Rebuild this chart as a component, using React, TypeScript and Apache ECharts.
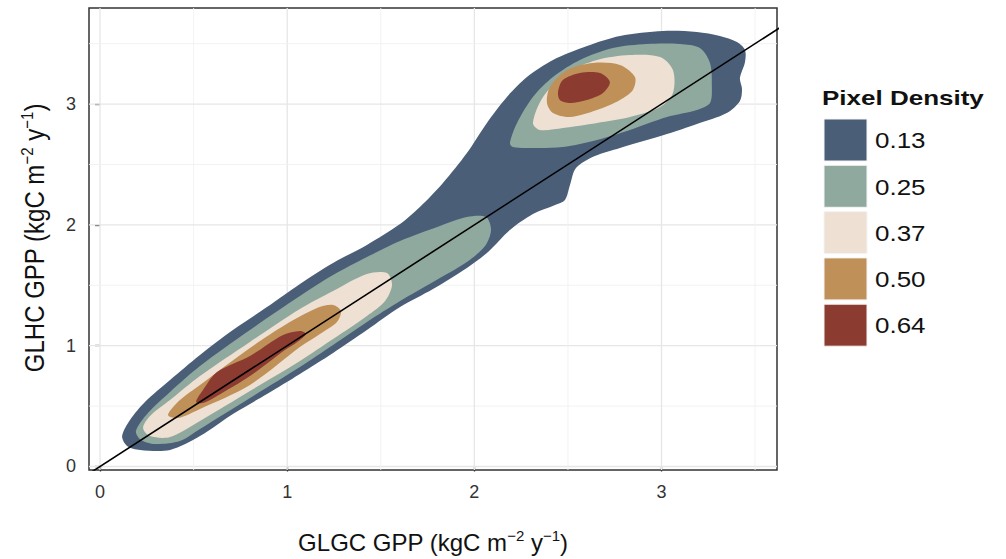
import React, { useEffect, useRef } from "react";
import * as echarts from "echarts";

// ---------- Data (data coordinates: GLGC GPP, GLHC GPP) ----------
const densityLevels = ["0.13", "0.25", "0.37", "0.50", "0.64"];
const levelColors = ["#4a5e78", "#90a99f", "#eee1d3", "#bf9159", "#8b3b30"];

const xTickValues = [0, 1, 2, 3];
const yTickValues = [0, 1, 2, 3];
const gridValues = [0, 0.5, 1, 1.5, 2, 2.5, 3, 3.5];

// contour 0.13 (outer envelope)
const contour013 = [
  [
    [0.118, 0.252], [0.144, 0.170], [0.214, 0.137], [0.374, 0.137], [0.534, 0.252],
    [0.710, 0.435], [0.892, 0.600], [1.068, 0.766], [1.245, 0.940], [1.426, 1.130],
    [1.603, 1.320], [1.779, 1.469], [1.960, 1.643], [2.073, 1.776], [2.190, 1.958],
    [2.313, 2.090], [2.431, 2.165], [2.484, 2.206], [2.511, 2.330], [2.543, 2.471],
    [2.644, 2.570], [2.778, 2.637], [3.029, 2.752], [3.189, 2.835], [3.349, 2.926],
    [3.419, 3.026], [3.430, 3.125], [3.419, 3.216], [3.446, 3.349], [3.446, 3.448],
    [3.403, 3.514], [3.312, 3.564], [3.189, 3.597], [3.008, 3.605], [2.778, 3.564],
    [2.602, 3.481], [2.420, 3.365], [2.281, 3.224], [2.174, 3.059], [2.067, 2.844],
    [1.960, 2.595], [1.832, 2.347], [1.709, 2.148], [1.603, 2.007], [1.426, 1.834],
    [1.245, 1.685], [1.068, 1.511], [0.892, 1.320], [0.710, 1.130], [0.534, 0.923],
    [0.374, 0.716], [0.240, 0.534], [0.160, 0.385],
  ],
];

// contour 0.25
const contour025 = [
  [
    [0.192, 0.294], [0.219, 0.219], [0.294, 0.186], [0.427, 0.211], [0.534, 0.310],
    [0.801, 0.567], [1.068, 0.824], [1.245, 1.006], [1.426, 1.196], [1.603, 1.370],
    [1.779, 1.527], [1.960, 1.693], [2.057, 1.825], [2.089, 1.958], [2.062, 2.065],
    [1.960, 2.065], [1.816, 1.991], [1.603, 1.867], [1.426, 1.734], [1.245, 1.585],
    [1.068, 1.411], [0.801, 1.130], [0.534, 0.832], [0.374, 0.617], [0.256, 0.443],
  ],
  [
    [2.190, 2.678], [2.228, 2.844], [2.313, 3.059], [2.420, 3.224], [2.564, 3.365],
    [2.740, 3.464], [2.922, 3.497], [3.098, 3.497], [3.205, 3.464], [3.259, 3.340],
    [3.269, 3.141], [3.259, 3.009], [3.189, 2.951], [3.029, 2.893], [2.831, 2.786],
    [2.655, 2.703], [2.473, 2.645], [2.297, 2.637], [2.206, 2.645],
  ],
];

// contour 0.37
const contour037 = [
  [
    [0.230, 0.319], [0.267, 0.252], [0.374, 0.244], [0.534, 0.377], [0.801, 0.625],
    [1.068, 0.873], [1.245, 1.055], [1.426, 1.246], [1.523, 1.370], [1.560, 1.502],
    [1.533, 1.602], [1.426, 1.594], [1.245, 1.453], [1.068, 1.304], [0.801, 1.031],
    [0.534, 0.749], [0.374, 0.550], [0.267, 0.418],
  ],
  [
    [2.313, 2.844], [2.367, 3.059], [2.495, 3.257], [2.655, 3.365], [2.831, 3.406],
    [2.992, 3.390], [3.061, 3.282], [3.061, 3.092], [2.992, 2.976], [2.831, 2.893],
    [2.655, 2.844], [2.473, 2.802], [2.350, 2.786],
  ],
];

// contour 0.50
const contour050 = [
  [
    [0.363, 0.426], [0.427, 0.550], [0.534, 0.675], [0.801, 0.981], [0.988, 1.171],
    [1.159, 1.312], [1.245, 1.337], [1.287, 1.287], [1.266, 1.196], [1.175, 1.097],
    [1.068, 0.989], [0.801, 0.675], [0.534, 0.476], [0.417, 0.401],
  ],
  [
    [2.388, 3.009], [2.404, 3.141], [2.495, 3.282], [2.634, 3.340], [2.778, 3.324],
    [2.858, 3.224], [2.847, 3.117], [2.778, 3.034], [2.655, 2.951], [2.511, 2.893],
    [2.420, 2.926],
  ],
];

// contour 0.64
const contour064 = [
  [
    [0.513, 0.534], [0.550, 0.633], [0.625, 0.782], [0.801, 0.915], [0.978, 1.089],
    [1.068, 1.122], [1.100, 1.097], [1.047, 1.022], [0.988, 0.964], [0.801, 0.749],
    [0.625, 0.584], [0.550, 0.526],
  ],
  [
    [2.447, 3.100], [2.473, 3.199], [2.564, 3.257], [2.671, 3.257], [2.724, 3.183],
    [2.687, 3.092], [2.601, 3.034], [2.511, 3.009], [2.457, 3.034],
  ],
];

const contoursByLevel = [contour013, contour025, contour037, contour050, contour064];
const identityLine = [[-0.5, -0.5], [4.5, 4.5]];

const FONT = "'Liberation Sans', Arial, Helvetica, sans-serif";

export default function App() {
  const ref = useRef<HTMLDivElement>(null);

  useEffect(() => {
    if (!ref.current) return;
    const chart = echarts.init(ref.current, undefined, { renderer: "svg" });

    const contourSeries = contoursByLevel.map((polys, li) => ({
      type: "custom",
      name: densityLevels[li],
      coordinateSystem: "cartesian2d",
      clip: true,
      z: 2 + li,
      silent: true,
      itemStyle: { color: levelColors[li] },
      data: polys.map((p) => p[0]),
      renderItem: (params: any, api: any) => {
        const poly = polys[params.dataIndex];
        const points = poly.map((pt: number[]) => api.coord(pt));
        return {
          type: "polygon",
          shape: { points, smooth: 0.3 },
          style: { fill: levelColors[li], stroke: "none" },
        };
      },
    }));

    const gridSeries = {
      type: "custom",
      coordinateSystem: "cartesian2d",
      silent: true,
      z: 1,
      data: gridValues.map((v) => [v, v]),
      renderItem: (params: any, api: any) => {
        const v = gridValues[params.dataIndex];
        const cs = params.coordSys;
        const px = api.coord([v, 0])[0];
        const py = api.coord([0, v])[1];
        const major = Number.isInteger(v);
        const stroke = major ? "#e6e6e6" : "#f1f1f1";
        const lw = major ? 1.3 : 0.9;
        const children: any[] = [];
        if (px >= cs.x && px <= cs.x + cs.width) {
          children.push({ type: "line", shape: { x1: px, y1: cs.y, x2: px, y2: cs.y + cs.height }, style: { stroke, lineWidth: lw } });
        }
        if (py >= cs.y && py <= cs.y + cs.height) {
          children.push({ type: "line", shape: { x1: cs.x, y1: py, x2: cs.x + cs.width, y2: py }, style: { stroke, lineWidth: lw } });
        }
        return { type: "group", children };
      },
    };

    const richName = {
      n: { fontSize: 24, lineHeight: 26, verticalAlign: "bottom", fontFamily: FONT, fill: "#111" },
      s: { fontSize: 15, lineHeight: 10, verticalAlign: "top", fontFamily: FONT, fill: "#111" },
    };

    const legendGraphics: any[] = [
      {
        type: "text",
        x: 822,
        y: 98,
        scaleX: 1.3,
        style: { text: "Pixel Density", fontSize: 20, fontWeight: "bold", fontFamily: FONT, fill: "#111", align: "left", verticalAlign: "middle" },
      },
    ];
    densityLevels.forEach((lab, i) => {
      legendGraphics.push({
        type: "rect",
        shape: { x: 824, y: 119 + i * 46.3, width: 43, height: 42 },
        style: { fill: levelColors[i], stroke: "#f4f4f4", lineWidth: 1 },
      });
      legendGraphics.push({
        type: "text",
        x: 875,
        y: 140.5 + i * 46.3,
        scaleX: 1.18,
        style: { text: lab, fontSize: 22, fontFamily: FONT, fill: "#111", align: "left", verticalAlign: "middle" },
      });
    });

    const option: any = {
      animation: false,
      backgroundColor: "#ffffff",
      textStyle: { fontFamily: FONT },
      grid: { left: 89, right: 229, top: 8, bottom: 89, show: true, borderColor: "#333", borderWidth: 1.5, backgroundColor: "transparent" },
      xAxis: {
        type: "value",
        min: -0.059,
        max: 3.617,
        axisLine: { show: false },
        splitLine: { show: false },
        axisTick: { show: true, customValues: xTickValues, length: 5, lineStyle: { color: "#333", width: 1.3 } },
        axisLabel: { customValues: xTickValues, margin: 13, fontSize: 18, color: "#333", fontFamily: FONT },
      },
      yAxis: {
        type: "value",
        min: -0.029,
        max: 3.795,
        axisLine: { show: false },
        splitLine: { show: false },
        axisTick: { show: true, customValues: yTickValues, length: 5, lineStyle: { color: "#333", width: 1.3 } },
        axisLabel: { customValues: yTickValues, margin: 13, fontSize: 18, color: "#333", fontFamily: FONT },
      },
      graphic: [
        {
          type: "text",
          x: 433,
          y: 541,
          style: { text: "{n|GLGC GPP (kgC m}{s|−2}{n| y}{s|−1}{n|)}", rich: richName, align: "center", verticalAlign: "middle" },
        },
        {
          type: "text",
          x: 33,
          y: 238,
          rotation: Math.PI / 2,
          scaleY: 1.15,
          style: { text: "{n|GLHC GPP (kgC m}{s|−2}{n| y}{s|−1}{n|)}", rich: richName, align: "center", verticalAlign: "middle" },
        },
        ...legendGraphics,
      ],
      series: [
        gridSeries,
        ...contourSeries,
        {
          type: "line",
          data: identityLine,
          symbol: "none",
          clip: true,
          silent: true,
          z: 10,
          lineStyle: { color: "#000", width: 1.6 },
        },
      ],
    };

    chart.setOption(option);
    return () => chart.dispose();
  }, []);

  return (
    <div
      ref={ref}
      style={{ position: "fixed", left: 0, top: 0, width: 1006, height: 559, background: "#fff" }}
    />
  );
}
